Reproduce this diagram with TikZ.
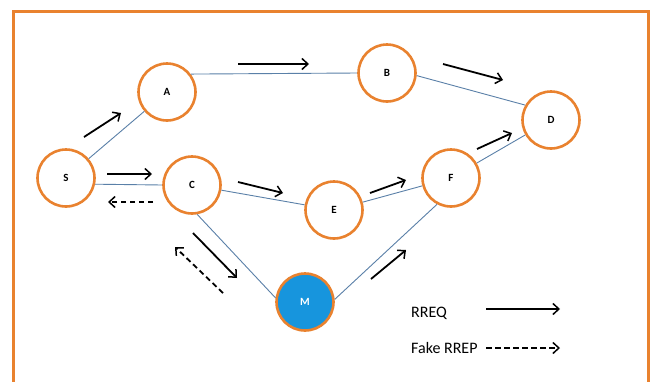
\documentclass[tikz,border=0pt]{standalone}
\usepackage{fontspec}
\setmainfont{Carlito}
\usetikzlibrary{arrows.meta}
\definecolor{frameorange}{HTML}{E9822F}
\definecolor{edgeblue}{HTML}{5A80A8}
\definecolor{mblue}{HTML}{1795DD}
\tikzset{
  peer/.style={circle, draw=frameorange, line width=2.6pt, fill=white, minimum size=57pt, inner sep=0pt, font=\fontsize{11}{13}\selectfont\bfseries},
  link/.style={draw=edgeblue, line width=0.9pt},
  rreq/.style={line width=1.8pt, -{Straight Barb[length=6pt,width=11pt,line width=1.5pt]}},
  fakerrep/.style={line width=1.8pt, dash pattern=on 5.5pt off 3.5pt, -{Straight Barb[length=6pt,width=11pt,line width=1.5pt]}},
  legendtext/.style={anchor=west, inner sep=0pt, font=\fontsize{16}{18}\selectfont}
}
\begin{document}
\begin{tikzpicture}[x=1pt,y=-1pt]
\clip (0,0) rectangle (655,381);
\fill[white] (0,0) rectangle (655,381);
% frame
\draw[frameorange, line width=3pt] (13,400) -- (13,11) -- (648,11) -- (648,400);
% nodes
\node[peer] (S) at (66,178) {S};
\node[peer] (A) at (167,92) {A};
\node[peer] (C) at (192,185) {C};
\node[peer] (B) at (387,73) {B};
\node[peer] (D) at (551,120) {D};
\node[peer] (F) at (451,178) {F};
\node[peer] (E) at (334,210) {E};
\node[peer, fill=mblue, text=white] (M) at (305,302) {M};
% links
\draw[link] (S) -- (A);
\draw[link] (S.-12) -- (C.west);
\draw[link] (A.37) -- (B.west);
\draw[link] (B.-5) -- (D.150);
\draw[link] (C) -- (E);
\draw[link] (E) -- (F);
\draw[link] (F) -- (D);
\draw[link] (C.-80) -- (M.172);
\draw[link] (M.5) -- (F.-118);
% RREQ arrows
\coordinate (ab1) at (238,64); \coordinate (ab2) at (309,64);
\coordinate (bd1) at (443,64); \coordinate (bd2) at (503,80);
\coordinate (sa1) at (84,137); \coordinate (sa2) at (121,113);
\coordinate (sc1) at (107,174); \coordinate (sc2) at (152,174);
\coordinate (ce1) at (238,182); \coordinate (ce2) at (283,193);
\coordinate (ef1) at (370,193); \coordinate (ef2) at (406,180);
\coordinate (fd1) at (477,149); \coordinate (fd2) at (512,133);
\coordinate (cm1) at (193,233); \coordinate (cm2) at (237,278);
\coordinate (mf1) at (371,279); \coordinate (mf2) at (406,250);
\draw[rreq] (ab1) -- (ab2);
\draw[rreq] (bd1) -- (bd2);
\draw[rreq] (sa1) -- (sa2);
\draw[rreq] (sc1) -- (sc2);
\draw[rreq] (ce1) -- (ce2);
\draw[rreq] (ef1) -- (ef2);
\draw[rreq] (fd1) -- (fd2);
\draw[rreq] (cm1) -- (cm2);
\draw[rreq] (mf1) -- (mf2);
% fake RREP arrows
\coordinate (cs1) at (153,202); \coordinate (cs2) at (108,202);
\coordinate (mc1) at (223,293); \coordinate (mc2) at (175,247);
\draw[fakerrep] (cs1) -- (cs2);
\draw[fakerrep] (mc1) -- (mc2);
% legend
\node[legendtext] (lq) at (411,313) {RREQ};
\node[legendtext] (lp) at (411,348) {Fake RREP};
\coordinate (lq1) at (486,309); \coordinate (lq2) at (560,309);
\coordinate (lp1) at (486,348); \coordinate (lp2) at (560,348);
\draw[rreq] (lq1) -- (lq2);
\draw[fakerrep] (lp1) -- (lp2);
\end{tikzpicture}
\end{document}
